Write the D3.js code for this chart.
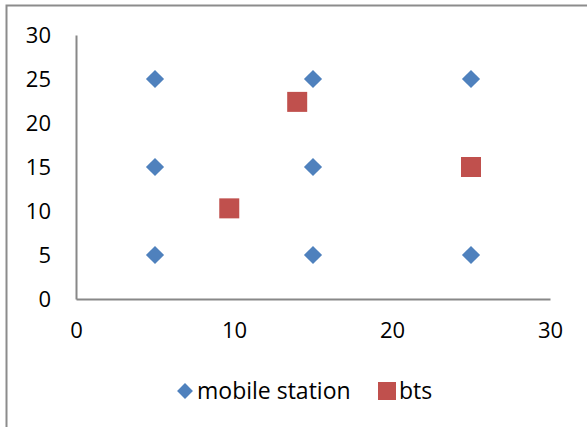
<!DOCTYPE html>
<html>
<head>
<meta charset="utf-8">
<script src="https://cdn.jsdelivr.net/npm/d3@7"></script>
<style>
  html, body { margin: 0; padding: 0; background: #fff; }
  svg { display: block; font-family: "Open Sans", sans-serif; }
</style>
</head>
<body>
<div id="chart"></div>
<script>
const width = 587,
  height = 427;

// mobile station positions
const msX = [5, 15, 25, 5, 15, 25, 5, 15, 25];
const msY = [25, 25, 25, 15, 15, 15, 5, 5, 5];
// bts positions
const btsX = [9.7, 14, 25];
const btsY = [10.3, 22.4, 15];

const xTicks = [0, 10, 20, 30];
const yTicks = [0, 5, 10, 15, 20, 25, 30];
const seriesNames = ["mobile station", "bts"];
const colors = ["#4f81bd", "#c0504d"];

const x = d3.scaleLinear().domain([0, 30]).range([76, 550]);
const y = d3.scaleLinear().domain([0, 30]).range([299, 35]);

const svg = d3
  .select("#chart")
  .append("svg")
  .attr("width", width)
  .attr("height", height);

// outer frame (top and left edges visible)
svg
  .append("path")
  .attr("d", `M6.5,${height} V5.5 H${width}`)
  .attr("fill", "none")
  .attr("stroke", "#8c8c8c")
  .attr("stroke-width", 2);

// axes
const xAxis = svg
  .append("g")
  .attr("transform", `translate(0,${y(0)})`)
  .call(d3.axisBottom(x).tickValues(xTicks).tickSize(0).tickPadding(23));

const yAxis = svg
  .append("g")
  .attr("transform", `translate(${x(0)},0)`)
  .call(d3.axisLeft(y).tickValues(yTicks).tickSize(0).tickPadding(25));

[xAxis, yAxis].forEach((g) => {
  g.select(".domain").attr("stroke", "#888").attr("stroke-width", 2);
  g.selectAll("text")
    .attr("font-family", "Open Sans, sans-serif")
    .attr("font-size", 22)
    .attr("fill", "#000");
});

const diamond = d3.symbol().type(d3.symbolDiamond2).size(210);

svg
  .append("g")
  .selectAll("path")
  .data(msX.map((v, i) => [v, msY[i]]))
  .join("path")
  .attr("d", diamond)
  .attr("transform", (d) => `translate(${x(d[0])},${y(d[1])})`)
  .attr("fill", colors[0]);

svg
  .append("g")
  .selectAll("rect")
  .data(btsX.map((v, i) => [v, btsY[i]]))
  .join("rect")
  .attr("x", (d) => x(d[0]) - 10)
  .attr("y", (d) => y(d[1]) - 10)
  .attr("width", 20)
  .attr("height", 20)
  .attr("fill", colors[1]);

// legend
const legend = svg.append("g").attr("font-size", 23);
legend
  .append("path")
  .attr("d", d3.symbol().type(d3.symbolDiamond2).size(160))
  .attr("transform", "translate(185,391)")
  .attr("fill", colors[0]);
legend
  .append("text")
  .attr("x", 197)
  .attr("y", 391)
  .attr("dy", "0.35em")
  .text(seriesNames[0]);
legend
  .append("rect")
  .attr("x", 378)
  .attr("y", 382)
  .attr("width", 18)
  .attr("height", 18)
  .attr("fill", colors[1]);
legend
  .append("text")
  .attr("x", 399)
  .attr("y", 391)
  .attr("dy", "0.35em")
  .text(seriesNames[1]);
</script>
</body>
</html>
